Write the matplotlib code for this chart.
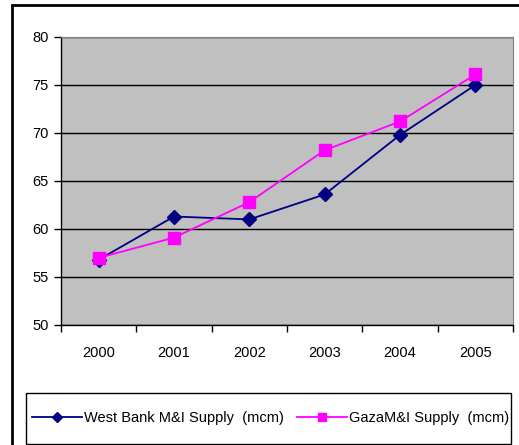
import matplotlib
matplotlib.use("Agg")
import matplotlib.pyplot as plt
from matplotlib.patches import Rectangle
import numpy as np

years = ["2000", "2001", "2002", "2003", "2004", "2005"]
west_bank = [56.8, 61.3, 61.0, 63.6, 69.8, 75.0]
gaza = [57.0, 59.1, 62.8, 68.2, 71.2, 76.1]

plt.rcParams["font.family"] = ["Liberation Sans", "DejaVu Sans"]

fig = plt.figure(figsize=(5.19, 4.45), dpi=100)
W, H = 519, 445
ax = fig.add_axes([61 / W, 1 - 325 / H, (513 - 61) / W, (325 - 37) / H])
ax.set_facecolor("#c0c0c0")

x = np.arange(len(years))
ax.plot(x, west_bank, color="#000080", marker="D", markersize=7, linewidth=1.3,
        label="West Bank M&I Supply  (mcm)")
ax.plot(x, gaza, color="#ff00ff", marker="s", markersize=8, linewidth=1.3,
        label="GazaM&I Supply  (mcm)")

ax.set_xlim(-0.5, len(years) - 0.5)
ax.set_ylim(50, 80)
ax.set_yticks(range(50, 81, 5))
ax.set_xticks(x)
ax.set_xticklabels(years)
ax.set_xticks(np.arange(-0.5, len(years)), minor=True)
ax.tick_params(axis="x", which="major", length=0, pad=15, labelsize=10.5)
ax.tick_params(axis="x", which="minor", length=5, width=1, color="black")
ax.tick_params(axis="y", length=5, width=1, labelsize=10.5, pad=4)
ax.grid(axis="y", color="black", linewidth=1)
for s in ["top", "right"]:
    ax.spines[s].set_color("#808080")
for s in ["left", "bottom"]:
    ax.spines[s].set_color("black")
    ax.spines[s].set_linewidth(1)

leg = fig.legend(loc="center", bbox_to_anchor=(270.5 / W, 1 - 418 / H), ncol=2,
                 frameon=False, fontsize=10.5,
                 handlelength=3.4, handletextpad=0.15, columnspacing=0.9,
                 borderpad=0, borderaxespad=0, markerscale=0.75)

# legend box
fig.patches.append(Rectangle((26 / W, 1 - 444 / H), (511 - 26) / W, (444 - 393) / H,
                             transform=fig.transFigure, fill=False,
                             edgecolor="black", linewidth=1))

# outer chart border
fig.patches.append(Rectangle((12 / W, -0.1), 1.2, 1 - 5 / H + 0.1, transform=fig.transFigure,
                             fill=False, edgecolor="black", linewidth=2))

fig.savefig("out.png", dpi=100)
